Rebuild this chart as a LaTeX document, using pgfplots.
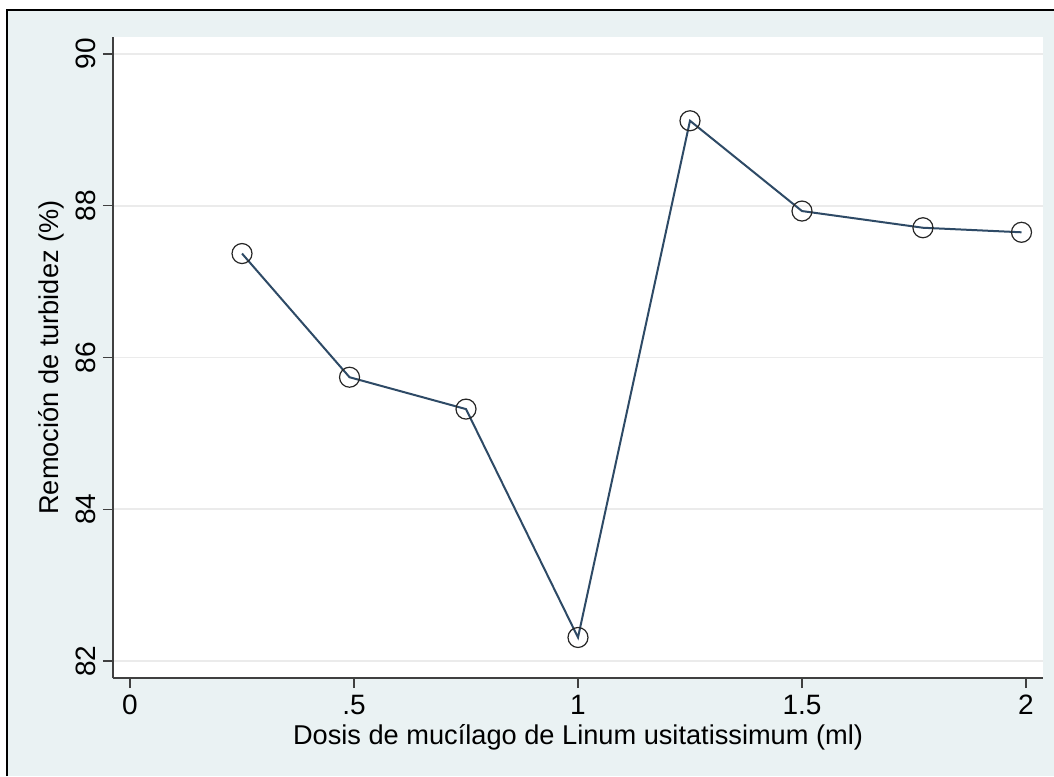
\documentclass[border=0pt]{standalone}
\usepackage{pgfplots}
\pgfplotsset{compat=1.18}
\usepackage{fontspec}
\setmainfont{Liberation Sans}
\definecolor{bgc}{HTML}{EAF2F3}
\definecolor{navyc}{HTML}{2E4A66}
\definecolor{gridc}{HTML}{EBEBEB}
\begin{document}
\begin{tikzpicture}
\path[use as bounding box] (0,0) rectangle (527pt,388pt);
\fill[white] (0,0) rectangle (527pt,388pt);
\fill[bgc] (3.5pt,0) rectangle (527pt,383pt);
\draw[black, line width=1.2pt] (3.5pt,0) -- (3.5pt,383pt) -- (527pt,383pt);
\begin{axis}[
  at={(56.5pt,49pt)}, anchor=south west,
  width=465pt, height=320.5pt, scale only axis,
  xmin=-0.038, xmax=2.038, ymin=81.776, ymax=90.224,
  axis x line*=bottom, axis y line*=left,
  axis line style={draw=black!75, line width=0.8pt},
  axis background/.style={fill=white},
  tick align=outside, major tick length=5pt,
  tick style={draw=black!75, line width=0.7pt},
  xtick={0,0.5,1,1.5,2}, xticklabels={0,.5,1,1.5,2},
  ytick={82,84,86,88,90},
  yticklabel style={rotate=90, anchor=south, xshift=0pt},
  ymajorgrids, grid style={draw=gridc, line width=0.8pt},
  ticklabel style={font=\fontsize{14}{16}\selectfont},
  /pgf/number format/assume math mode=true,
  xlabel={Dosis de mucílago de Linum usitatissimum (ml)},
  ylabel={Remoción de turbidez (\%)},
  label style={font=\fontsize{13.6}{16}\selectfont},
  xlabel style={yshift=2pt},
  ylabel style={yshift=-1pt},
]
\addplot[draw=navyc, line width=1pt, mark=o, mark size=5pt,
  mark options={draw=black!85, line width=0.6pt, solid}] coordinates {
(0.25,87.37) (0.49,85.74) (0.75,85.32) (1.00,82.31)
(1.25,89.12) (1.50,87.93) (1.77,87.71) (1.99,87.65)
};
\end{axis}
\end{tikzpicture}
\end{document}
